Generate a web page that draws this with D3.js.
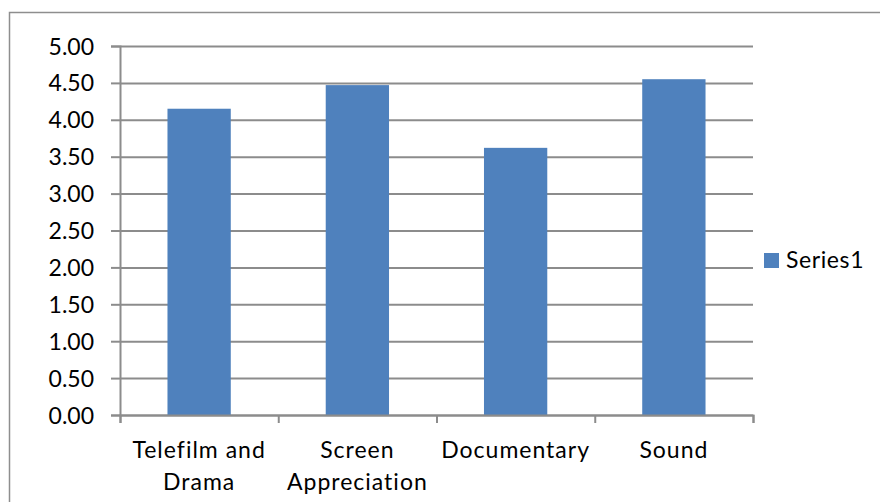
<!DOCTYPE html>
<html>
<head>
<meta charset="utf-8">
<script src="https://cdn.jsdelivr.net/npm/d3@7"></script>
<style>
  body { margin: 0; background: #fff; }
  svg text { font-family: Lato, "Open Sans", sans-serif; fill: #000; }
</style>
</head>
<body>
<div id="chart"></div>
<script>
// chart data
var categories = [["Telefilm and", "Drama"], ["Screen", "Appreciation"], ["Documentary"], ["Sound"]];
var values = [4.15, 4.47, 3.62, 4.55];
var yTicks = [0, 0.5, 1, 1.5, 2, 2.5, 3, 3.5, 4, 4.5, 5];
var seriesName = "Series1";

var W = 880, H = 502;
var margin = {top: 46, right: 127, bottom: 87, left: 120},
    width = W - margin.left - margin.right,
    height = H - margin.top - margin.bottom;

var svg = d3.select("#chart").append("svg")
    .attr("width", W)
    .attr("height", H);

// outer chart border
svg.append("rect")
    .attr("x", 9.5).attr("y", 12.5)
    .attr("width", W).attr("height", H)
    .attr("fill", "none")
    .attr("stroke", "#8e8e8e")
    .attr("stroke-width", 1.5);

var g = svg.append("g")
    .attr("transform", "translate(" + margin.left + "," + margin.top + ")");

var x = d3.scaleBand()
    .domain(d3.range(categories.length))
    .range([0, width])
    .paddingInner(0.6)
    .paddingOuter(0.3);

var y = d3.scaleLinear().domain([0, 5]).range([height, 0]);

// gridlines
g.append("g")
    .call(d3.axisLeft(y).tickValues(yTicks).tickSize(-width).tickFormat(""))
    .call(function(a) {
      a.select(".domain").remove();
      a.selectAll("line").attr("stroke", "#8c8c8c").attr("stroke-width", 2);
    });

// value axis
g.append("g")
    .call(d3.axisLeft(y).tickValues(yTicks).tickSize(9).tickPadding(17)
      .tickFormat(d3.format(".2f")))
    .call(function(a) {
      a.select(".domain").attr("stroke", "#8c8c8c").attr("stroke-width", 2);
      a.selectAll("line").attr("stroke", "#8c8c8c").attr("stroke-width", 2);
      a.selectAll("text").style("font-size", "23px").attr("dy", "0.35em");
    });

// bars
g.selectAll(".bar")
    .data(values)
  .enter().append("rect")
    .attr("class", "bar")
    .attr("x", function(d, i) { return x(i); })
    .attr("y", function(d) { return y(d); })
    .attr("width", x.bandwidth())
    .attr("height", function(d) { return height - y(d); })
    .attr("fill", "#4f81bd");

// category axis, ticks sit between categories
var xb = d3.scaleLinear().domain([0, categories.length]).range([0, width]);
g.append("g")
    .attr("transform", "translate(0," + height + ")")
    .call(d3.axisBottom(xb).ticks(categories.length).tickSize(8).tickFormat(""))
    .call(function(a) {
      a.select(".domain").attr("stroke", "#8c8c8c").attr("stroke-width", 2);
      a.selectAll("line").attr("stroke", "#8c8c8c").attr("stroke-width", 2);
    });

var labels = g.append("g").selectAll("text")
    .data(categories)
  .enter().append("text")
    .attr("text-anchor", "middle")
    .style("font-size", "23px")
    .style("letter-spacing", "1px")
    .attr("x", function(d, i) { return xb(i + 0.5); })
    .attr("y", height + 43);

labels.selectAll("tspan")
    .data(function(d) { return d; })
  .enter().append("tspan")
    .attr("x", function() { return d3.select(this.parentNode).attr("x"); })
    .attr("dy", function(d, i) { return i === 0 ? 0 : 32; })
    .text(function(d) { return d; });

// legend
var legend = svg.append("g").attr("transform", "translate(764,253)");
legend.append("rect")
    .attr("width", 15).attr("height", 15)
    .attr("fill", "#4f81bd");
legend.append("text")
    .attr("x", 22).attr("y", 15)
    .style("font-size", "23px")
    .style("letter-spacing", "0.6px")
    .text(seriesName);
</script>
</body>
</html>
